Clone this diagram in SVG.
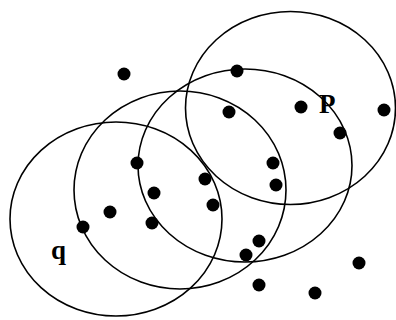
<svg xmlns="http://www.w3.org/2000/svg" width="396" height="320" viewBox="0 0 396 320">
<style>
.c{fill:none;stroke:#000;stroke-width:1.6}
.d{fill:#000}
.t{font-family:"Liberation Serif","Times New Roman",serif;font-weight:bold;font-size:27px;fill:#000}
</style>
<rect width="396" height="320" fill="#fff"/>
<g id="connectors">
<ellipse id="circleA" class="c" cx="116" cy="219" rx="106" ry="97"/>
<ellipse id="circleB" class="c" cx="180" cy="190" rx="106" ry="99"/>
<ellipse id="circleC" class="c" cx="245" cy="165.5" rx="107" ry="96.5"/>
<ellipse id="circleD" class="c" cx="290.5" cy="108" rx="105" ry="96.5"/>
</g>
<g id="points">
<circle class="d" cx="124" cy="74" r="6.5"/>
<circle class="d" cx="237" cy="71" r="6.5"/>
<circle class="d" cx="229" cy="112" r="6.5"/>
<circle class="d" cx="301" cy="107" r="6.5"/>
<circle class="d" cx="384" cy="110" r="6.5"/>
<circle class="d" cx="340" cy="133" r="6.5"/>
<circle class="d" cx="273" cy="163" r="6.5"/>
<circle class="d" cx="276" cy="185" r="6.5"/>
<circle class="d" cx="137" cy="163" r="6.5"/>
<circle class="d" cx="154" cy="193" r="6.5"/>
<circle class="d" cx="205" cy="179" r="6.5"/>
<circle class="d" cx="213" cy="205" r="6.5"/>
<circle class="d" cx="110" cy="212" r="6.5"/>
<circle class="d" cx="83" cy="227" r="6.5"/>
<circle class="d" cx="152" cy="223" r="6.5"/>
<circle class="d" cx="259" cy="241" r="6.5"/>
<circle class="d" cx="246" cy="255" r="6.5"/>
<circle class="d" cx="359" cy="263" r="6.5"/>
<circle class="d" cx="259" cy="285" r="6.5"/>
<circle class="d" cx="315" cy="293" r="6.5"/>
</g>
<g id="label-p"><text class="t" x="319" y="113">P</text></g>
<g id="label-q"><text class="t" x="51" y="259">q</text></g>
</svg>
